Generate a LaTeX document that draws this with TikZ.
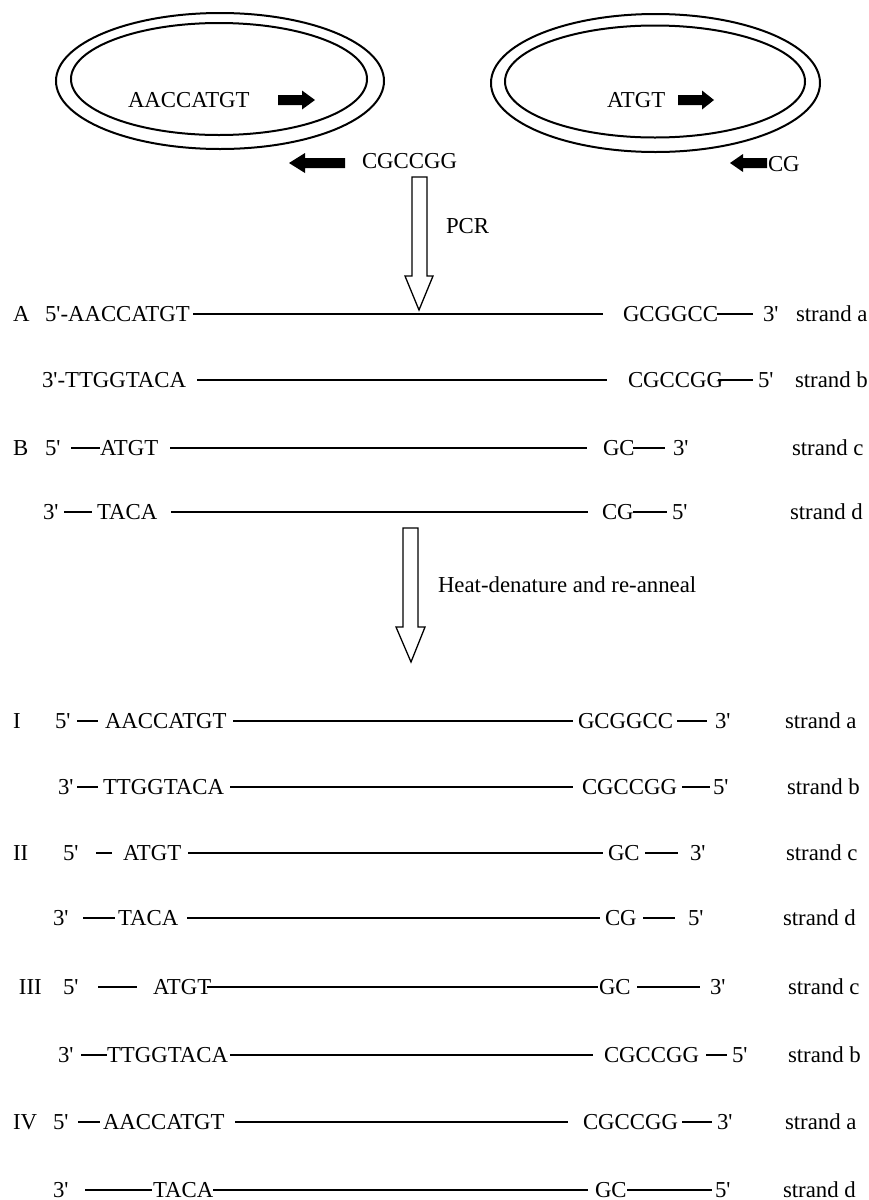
\documentclass[tikz,border=0pt]{standalone}
\usepackage{fontspec}
\setmainfont{Liberation Serif}
\newcommand\pr{\textquotesingle}
\tikzset{
  txt/.style={anchor=base west, inner sep=0pt, outer sep=0pt, font=\fontsize{22.8}{27}\selectfont},
  strandline/.style={line width=1.2pt},
  ring/.style={line width=2pt},
  blockarrow/.style={draw, line width=1.3pt, fill=white, line join=miter},
  solidarrow/.style={fill=black, draw=none},
}
% text at (x, line y) : baseline 7 units below the strand line
\newcommand\sq[4]{\node[txt] (#1) at (#2,#3+7) {#4};}
% strand segment on row y from x1 to x2
\newcommand\seg[3]{\draw[strandline] (#2,#1) -- (#3,#1);}
\begin{document}
\begin{tikzpicture}[x=1pt,y=-1pt]
\useasboundingbox (0,0) rectangle (868,1200);

% ---------- plasmids ----------
\draw[ring] (220,81) ellipse [x radius=164pt, y radius=68pt];
\draw[ring] (219,79) ellipse [x radius=148pt, y radius=56pt];
\draw[ring] (655.5,83) ellipse [x radius=164.5pt, y radius=69pt];
\draw[ring] (655,81.5) ellipse [x radius=150pt, y radius=56pt];

\node[txt] (p1seq) at (128,107) {AACCATGT};
\node[txt] (p2seq) at (607,107) {ATGT};
\node[txt] (p1rev) at (362,168) {CGCCGG};
\node[txt] (p2rev) at (768,171) {CG};

\fill[solidarrow] (278,95)--(302,95)--(302,90.5)--(315,100)--(302,109.5)--(302,105)--(278,105)--cycle;
\fill[solidarrow] (678,95)--(702,95)--(702,90.5)--(714,100)--(702,109.5)--(702,105)--(678,105)--cycle;
\fill[solidarrow] (345,158)--(305,158)--(305,153)--(289,163)--(305,173)--(305,168)--(345,168)--cycle;
\fill[solidarrow] (767,158)--(743,158)--(743,154)--(730,163)--(743,172)--(743,168)--(767,168)--cycle;

% ---------- PCR arrow ----------
\draw[blockarrow] (412,177)--(427,177)--(427,276)--(433,276)--(419,310)--(405,276)--(412,276)--cycle;
\node[txt] (pcr) at (446,233) {PCR};

% ---------- Row A ----------
\node[txt] (lA) at (13,321) {A};
\sq{a1}{45}{314}{5\pr-AACCATGT}
\seg{314}{193}{603}
\sq{a2}{623}{314}{GCGGCC}
\seg{314}{717}{753}
\sq{a3}{763}{314}{3\pr}
\sq{a4}{796}{314}{strand a}

\sq{b1}{42}{380}{3\pr-TTGGTACA}
\seg{380}{197}{607}
\sq{b2}{628}{380}{CGCCGG}
\seg{380}{718}{753}
\sq{b3}{758}{380}{5\pr}
\sq{b4}{795}{380}{strand b}

% ---------- Row B ----------
\node[txt] (lB) at (13,455) {B};
\sq{c0}{45}{448}{5\pr}
\seg{448}{71}{100}
\sq{c1}{100}{448}{ATGT}
\seg{448}{170}{587}
\sq{c2}{603}{448}{GC}
\seg{448}{633}{665}
\sq{c3}{673}{448}{3\pr}
\sq{c4}{792}{448}{strand c}

\sq{d0}{43}{512}{3\pr}
\seg{512}{64}{92}
\sq{d1}{97}{512}{TACA}
\seg{512}{171}{588}
\sq{d2}{602}{512}{CG}
\seg{512}{633}{667}
\sq{d3}{672}{512}{5\pr}
\sq{d4}{790}{512}{strand d}

% ---------- heat arrow ----------
\draw[blockarrow] (403,528)--(418,528)--(418,627)--(425,627)--(411,662)--(396,627)--(403,627)--cycle;
\node[txt] (heat) at (438,592) {Heat-denature and re-anneal};

% ---------- I ----------
\node[txt] (lI) at (13,728) {I};
\sq{e0}{55}{721}{5\pr}
\seg{721}{77}{98}
\sq{e1}{105}{721}{AACCATGT}
\seg{721}{233}{573}
\sq{e2}{578}{721}{GCGGCC}
\seg{721}{677}{707}
\sq{e3}{715}{721}{3\pr}
\sq{e4}{785}{721}{strand a}

\sq{f0}{58}{787}{3\pr}
\seg{787}{77}{98}
\sq{f1}{103}{787}{TTGGTACA}
\seg{787}{230}{573}
\sq{f2}{582}{787}{CGCCGG}
\seg{787}{682}{710}
\sq{f3}{713}{787}{5\pr}
\sq{f4}{787}{787}{strand b}

% ---------- II ----------
\node[txt] (lII) at (13,860) {II};
\sq{g0}{63}{853}{5\pr}
\seg{853}{96}{112}
\sq{g1}{123}{853}{ATGT}
\seg{853}{188}{603}
\sq{g2}{608}{853}{GC}
\seg{853}{645}{678}
\sq{g3}{690}{853}{3\pr}
\sq{g4}{786}{853}{strand c}

\sq{h0}{53}{918}{3\pr}
\seg{918}{83}{115}
\sq{h1}{118}{918}{TACA}
\seg{918}{187}{600}
\sq{h2}{605}{918}{CG}
\seg{918}{643}{675}
\sq{h3}{688}{918}{5\pr}
\sq{h4}{783}{918}{strand d}

% ---------- III ----------
\node[txt] (lIII) at (19,994) {III};
\sq{i0}{63}{987}{5\pr}
\seg{987}{98}{137}
\sq{i1}{153}{987}{ATGT}
\seg{987}{207}{598}
\sq{i2}{599}{987}{GC}
\seg{987}{637}{700}
\sq{i3}{710}{987}{3\pr}
\sq{i4}{788}{987}{strand c}

\sq{j0}{58}{1055}{3\pr}
\seg{1055}{81}{107}
\sq{j1}{107}{1055}{TTGGTACA}
\seg{1055}{230}{593}
\sq{j2}{604}{1055}{CGCCGG}
\seg{1055}{706}{727}
\sq{j3}{732}{1055}{5\pr}
\sq{j4}{788}{1055}{strand b}

% ---------- IV ----------
\node[txt] (lIV) at (13,1129) {IV};
\sq{k0}{53}{1122}{5\pr}
\seg{1122}{78}{100}
\sq{k1}{103}{1122}{AACCATGT}
\seg{1122}{235}{568}
\sq{k2}{583}{1122}{CGCCGG}
\seg{1122}{682}{712}
\sq{k3}{717}{1122}{3\pr}
\sq{k4}{785}{1122}{strand a}

\sq{l0}{53}{1190}{3\pr}
\seg{1190}{85}{152}
\sq{l1}{153}{1190}{TACA}
\seg{1190}{213}{588}
\sq{l2}{595}{1190}{GC}
\seg{1190}{627}{712}
\sq{l3}{715}{1190}{5\pr}
\sq{l4}{783}{1190}{strand d}
\end{tikzpicture}
\end{document}
